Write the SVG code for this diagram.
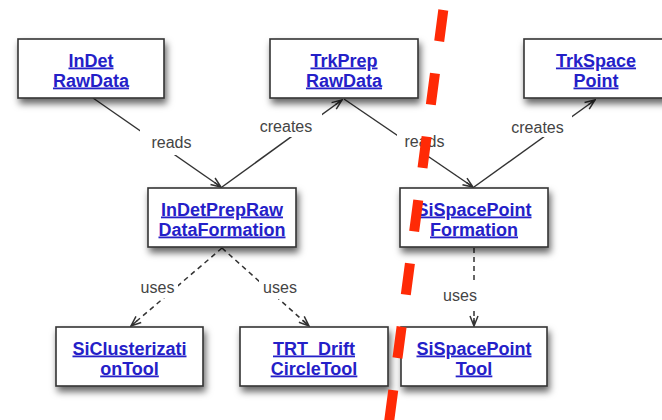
<svg xmlns="http://www.w3.org/2000/svg" width="662" height="420" viewBox="0 0 662 420">
  <defs>
    <filter id="shadow" x="-20%" y="-20%" width="140%" height="160%">
      <feDropShadow dx="2" dy="5" stdDeviation="3.5" flood-color="#000" flood-opacity="0.6"/>
    </filter>
    <marker id="vee" viewBox="0 0 12 10" refX="11" refY="5" markerWidth="12" markerHeight="10" markerUnits="userSpaceOnUse" orient="auto">
      <path d="M1,1 L11,5 L1,9 M3,5 L11,5" fill="none" stroke="#333" stroke-width="1.5"/>
    </marker>
    <style>
      .box { fill: #fff; stroke: #333; stroke-width: 1.6; filter: url(#shadow); }
      .name { font-family: "Liberation Sans", Arial, sans-serif; font-size: 18px; font-weight: bold; fill: #2420c8; text-anchor: middle; text-decoration: underline; }
      .edge { fill: none; stroke: #333; stroke-width: 1.5; marker-end: url(#vee); }
      .dashed { stroke-dasharray: 5 4; }
      .lbg { fill: #fff; }
      .lbl { font-family: "Liberation Sans", Arial, sans-serif; font-size: 16px; fill: #444; text-anchor: middle; }
      .cut { fill: none; stroke: #ff2a06; stroke-width: 10; stroke-dasharray: 31.5 32.4; }
    </style>
  </defs>

  <rect width="662" height="420" fill="#fff"/>

  <!-- connectors -->
  <g id="connectors">
    <path class="edge" d="M93,98 L221,187"/>
    <path class="edge" d="M222,187 L342,100"/>
    <path class="edge" d="M344,99 L473,187"/>
    <path class="edge" d="M474,187 L595,100"/>
    <path class="edge dashed" d="M222,248 L131,326"/>
    <path class="edge dashed" d="M222,248 L309,326"/>
    <path class="edge dashed" d="M474,248 L474,326"/>

    <rect class="lbg" x="140" y="128" width="56" height="27"/>
    <text class="lbl" x="171.5" y="148">reads</text>
    <rect class="lbg" x="256" y="113" width="66" height="24"/>
    <text class="lbl" x="286" y="132">creates</text>
    <rect class="lbg" x="397" y="133" width="51" height="23"/>
    <text class="lbl" x="424.5" y="147">reads</text>
    <rect class="lbg" x="508" y="115" width="64" height="22"/>
    <text class="lbl" x="537.5" y="133">creates</text>
    <rect class="lbg" x="138" y="278" width="40" height="20"/>
    <text class="lbl" x="157.5" y="293">uses</text>
    <rect class="lbg" x="259" y="278" width="41" height="21"/>
    <text class="lbl" x="280" y="293">uses</text>
    <rect class="lbg" x="441" y="281" width="39" height="26"/>
    <text class="lbl" x="460" y="301">uses</text>
  </g>

  <!-- nodes -->
  <g id="InDetRawData">
    <rect class="box" x="18" y="39" width="146" height="59"/>
    <text class="name" x="91" y="66.5">InDet</text>
    <text class="name" x="91" y="86.5">RawData</text>
  </g>
  <g id="TrkPrepRawData">
    <rect class="box" x="270" y="39" width="148" height="59"/>
    <text class="name" x="344" y="66.5">TrkPrep</text>
    <text class="name" x="344" y="86.5">RawData</text>
  </g>
  <g id="TrkSpacePoint">
    <rect class="box" x="524" y="39" width="144" height="59"/>
    <text class="name" x="596" y="66.5">TrkSpace</text>
    <text class="name" x="596" y="86.5">Point</text>
  </g>
  <g id="InDetPrepRawDataFormation">
    <rect class="box" x="148" y="188" width="148" height="59"/>
    <text class="name" x="222" y="215.5">InDetPrepRaw</text>
    <text class="name" x="222" y="235.5">DataFormation</text>
  </g>
  <g id="SiSpacePointFormation">
    <rect class="box" x="400" y="188" width="148" height="59"/>
    <text class="name" x="474" y="215.5">SiSpacePoint</text>
    <text class="name" x="474" y="235.5">Formation</text>
  </g>
  <g id="SiClusterizationTool">
    <rect class="box" x="56" y="327" width="147" height="59"/>
    <text class="name" x="129.5" y="354.5">SiClusterizati</text>
    <text class="name" x="129.5" y="374.5">onTool</text>
  </g>
  <g id="TRT_DriftCircleTool">
    <rect class="box" x="240" y="327" width="148" height="59"/>
    <text class="name" x="314" y="354.5">TRT_Drift</text>
    <text class="name" x="314" y="374.5">CircleTool</text>
  </g>
  <g id="SiSpacePointTool">
    <rect class="box" x="401" y="327" width="146" height="59"/>
    <text class="name" x="474" y="354.5">SiSpacePoint</text>
    <text class="name" x="474" y="374.5">Tool</text>
  </g>

  <!-- red dashed dividing line -->
  <line class="cut" x1="443.3" y1="10" x2="388" y2="430"/>
</svg>
